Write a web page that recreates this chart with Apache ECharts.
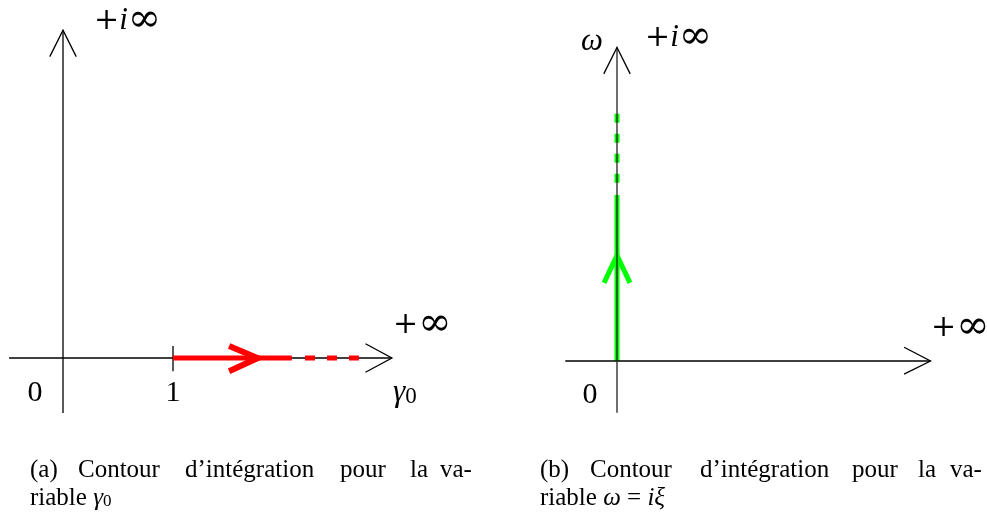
<!DOCTYPE html>
<html>
<head>
<meta charset="utf-8">
<script src="https://cdn.jsdelivr.net/npm/echarts@6/dist/echarts.min.js"></script>
<style>
  html, body { margin: 0; padding: 0; background: #fff; }
  #chart { width: 987px; height: 517px; }
</style>
</head>
<body>
<div id="chart"></div>
<script>
// panel (a): plane of gamma0, unit = distance from 0 to 1
const axisA_h = [[-0.49, 0], [2.99, 0]]
const axisA_v = [[0, -0.5], [0, 2.98]]
const arrowA_h = [[2.75, 0.13], [2.99, 0], [2.75, -0.13]]
const arrowA_v = [[-0.12, 2.74], [0, 2.98], [0.12, 2.74]]
const tickA = [[1, 0.11], [1, -0.12]]
const contourA_solid = [[1, 0], [2.08, 0]]
const contourA_dash = [[2.2, 0], [2.69, 0]]
const contourA_arrow = [[1.51, 0.11], [1.77, 0], [1.51, -0.12]]

// panel (b): plane of omega
const axisB_h = [[-0.47, 0], [2.85, 0]]
const axisB_v = [[0, -0.47], [0, 2.85]]
const arrowB_h = [[2.61, 0.125], [2.85, 0], [2.61, -0.12]]
const arrowB_v = [[-0.12, 2.61], [0, 2.85], [0.12, 2.61]]
const contourB_solid = [[0, 0], [0, 1.51]]
const contourB_dash = [[0, 1.62], [0, 2.27]]
const contourB_arrow = [[-0.118, 0.71], [0, 0.96], [0.118, 0.71]]

const captionA1 = ['(a)', 'Contour', 'd\u2019intégration', 'pour', 'la', 'va-']
const captionB1 = ['(b)', 'Contour', 'd\u2019intégration', 'pour', 'la', 'va-']

const chart = echarts.init(document.getElementById('chart'))

function seg (data, grid, color, width, extra) {
  return Object.assign({
    type: 'line',
    data: data,
    xAxisIndex: grid,
    yAxisIndex: grid,
    showSymbol: false,
    silent: true,
    animation: false,
    lineStyle: { color: color, width: width, cap: 'butt', join: 'miter' }
  }, extra || {})
}

const serif = '"Liberation Serif", serif'
const wide = '"DejaVu Serif", "Liberation Serif", serif'
const capFont = '25px ' + serif

function label (x, y, text, align) {
  return {
    type: 'text',
    x: x,
    y: y,
    silent: true,
    style: {
      text: text,
      font: '30px ' + serif,
      fill: '#000',
      textAlign: align || 'left',
      textVerticalAlign: 'middle',
      rich: richMath
    }
  }
}

const richMath = {
  r: { fontFamily: serif, fontSize: 31, fill: '#000' },
  w: { fontFamily: wide, fontSize: 30, fill: '#000' },
  inf: { fontFamily: wide, fontSize: 40, fill: '#000', verticalAlign: 'middle' },
  i: { fontFamily: serif, fontSize: 31, fontStyle: 'italic', fill: '#000' },
  s: { fontFamily: serif, fontSize: 23, fill: '#000', padding: [8, 0, 0, 0] },
  c: { fontFamily: serif, fontSize: 25, fill: '#000' },
  ci: { fontFamily: serif, fontSize: 25, fontStyle: 'italic', fill: '#000' },
  cs: { fontFamily: serif, fontSize: 17, fill: '#000', padding: [7, 0, 0, 0] }
}

const wordXA = [30, 78, 185, 340, 410, 440]
const wordXB = [540, 590, 700, 852, 918, 950]
const words = []
captionA1.forEach((w, k) => words.push({
  type: 'text', x: wordXA[k], y: 470, silent: true,
  style: { text: w, font: capFont, fill: '#000', textVerticalAlign: 'middle' }
}))
captionB1.forEach((w, k) => words.push({
  type: 'text', x: wordXB[k], y: 470, silent: true,
  style: { text: w, font: capFont, fill: '#000', textVerticalAlign: 'middle' }
}))

const option = {
  backgroundColor: '#fff',
  animation: false,
  grid: [
    { left: 8, top: 28, width: 385, height: 385 },
    { left: 562, top: 31, width: 385, height: 385 }
  ],
  xAxis: [
    { type: 'value', gridIndex: 0, min: -0.5, max: 3, show: false },
    { type: 'value', gridIndex: 1, min: -0.5, max: 3, show: false }
  ],
  yAxis: [
    { type: 'value', gridIndex: 0, min: -0.5, max: 3, show: false },
    { type: 'value', gridIndex: 1, min: -0.5, max: 3, show: false }
  ],
  series: [
    seg(axisA_h, 0, '#000', 1.3),
    seg(axisA_v, 0, '#000', 1.3),
    seg(arrowA_h, 0, '#000', 1.3),
    seg(arrowA_v, 0, '#000', 1.3),
    seg(tickA, 0, '#000', 1.3),
    seg(contourA_solid, 0, '#ff0000', 5, { z: 3 }),
    seg(contourA_dash, 0, '#ff0000', 5, { z: 3, lineStyle: { color: '#ff0000', width: 5, type: [10, 12], cap: 'butt' } }),
    seg(contourA_arrow, 0, '#ff0000', 6, { z: 3 }),

    seg(contourB_solid, 1, '#00ff00', 5, { z: 1 }),
    seg(contourB_dash, 1, '#00ff00', 5, { z: 1, lineStyle: { color: '#00ff00', width: 5, type: [9, 11], cap: 'butt' } }),
    seg(contourB_arrow, 1, '#00ff00', 5, { z: 1 }),
    seg(axisB_h, 1, '#000', 1.3, { z: 4 }),
    seg(axisB_v, 1, '#222', 1.3, { z: 4 }),
    seg(arrowB_h, 1, '#000', 1.3, { z: 4 }),
    seg(arrowB_v, 1, '#000', 1.3, { z: 4 })
  ],
  graphic: [
    label(94, 21, '{w|+}{i|i}{inf|\u221E}'),
    label(393, 325, '{w|+}{inf|\u221E}'),
    label(35, 393, '0', 'center'),
    label(173, 393, '1', 'center'),
    label(393, 393, '{i|\u03B3}{s|0}'),

    label(592, 42, '{i|\u03C9}', 'center'),
    label(645, 38, '{w|+}{i|i}{inf|\u221E}'),
    label(931, 328, '{w|+}{inf|\u221E}'),
    label(590, 395, '0', 'center'),

    label(30, 498, '{c|riable }{ci|\u03B3}{cs|0}'),
    label(540, 498, '{c|riable }{ci|\u03C9}{c| = }{ci|i\u03BE}')
  ].concat(words)
}

chart.setOption(option)
</script>
</body>
</html>
